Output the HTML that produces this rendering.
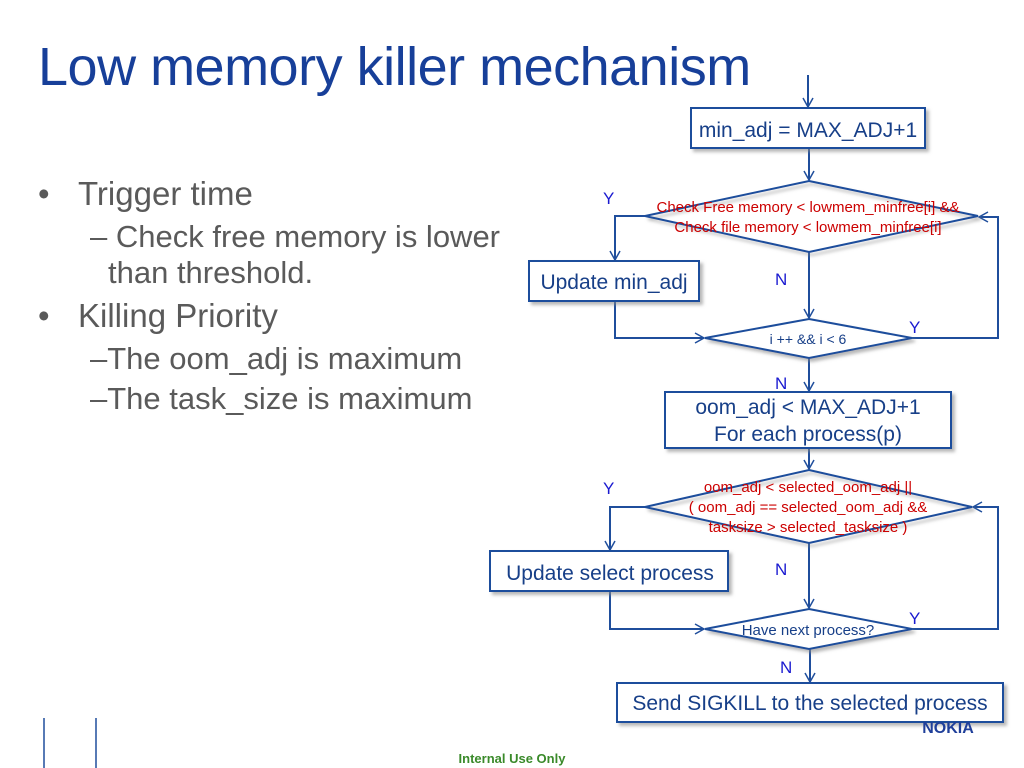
<!DOCTYPE html>
<html><head><meta charset="utf-8"><style>
body{margin:0;background:#fff;width:1024px;height:768px;overflow:hidden;position:relative;font-family:"Liberation Sans",sans-serif}
.t{position:absolute;left:38px;top:36px;font-size:54px;color:#173f99;letter-spacing:-0.5px;white-space:nowrap}
.b{position:absolute;color:#5a5a5a;font-size:33px;white-space:nowrap;line-height:38px}
.s{font-size:31px}
</style></head><body>
<div class="t">Low memory killer mechanism</div>
<div class="b" style="left:38px;top:175px">•</div><div class="b" style="left:78px;top:175px">Trigger time</div>
<div class="b s" style="left:90px;top:218px">– Check free memory is lower</div>
<div class="b s" style="left:108px;top:254px">than threshold.</div>
<div class="b" style="left:38px;top:297px">•</div><div class="b" style="left:78px;top:297px">Killing Priority</div>
<div class="b s" style="left:90px;top:340px">–The oom_adj is maximum</div>
<div class="b s" style="left:90px;top:380px">–The task_size is maximum</div>
<svg width="1024" height="768" style="position:absolute;left:0;top:0" font-family="Liberation Sans, sans-serif">
<defs><marker id="a" markerWidth="12" markerHeight="12" refX="10" refY="6" orient="auto" markerUnits="userSpaceOnUse"><path d="M1,1 L10,6 L1,11" fill="none" stroke="#1f4e9c" stroke-width="1.5"/></marker>
<filter id="s"><feDropShadow dx="3" dy="3" stdDeviation="1.5" flood-color="#888" flood-opacity="0.6"/></filter></defs>
<g stroke="#1f4e9c" stroke-width="2" fill="none">
<line x1="808" y1="75" x2="808" y2="107" marker-end="url(#a)"/>
<line x1="809" y1="148" x2="809" y2="180" marker-end="url(#a)"/>
<path d="M645,216 H615 V260" marker-end="url(#a)"/>
<path d="M615,301 V338 H704" marker-end="url(#a)"/>
<line x1="809" y1="252" x2="809" y2="318" marker-end="url(#a)"/>
<path d="M912,338 H998 V217 H979" marker-end="url(#a)"/>
<line x1="809" y1="358" x2="809" y2="391" marker-end="url(#a)"/>
<line x1="809" y1="448" x2="809" y2="469" marker-end="url(#a)"/>
<path d="M645,507 H610 V550" marker-end="url(#a)"/>
<path d="M610,591 V629 H704" marker-end="url(#a)"/>
<line x1="809" y1="543" x2="809" y2="608" marker-end="url(#a)"/>
<path d="M912,629 H998 V507 H973" marker-end="url(#a)"/>
<line x1="810" y1="649" x2="810" y2="682" marker-end="url(#a)"/>
</g>
<g stroke="#1f4e9c" stroke-width="2" fill="#fff" filter="url(#s)">
<rect x="691" y="108" width="234" height="40"/>
<polygon points="809,181 978,216 809,252 645,216" fill="none"/>
<rect x="529" y="261" width="170" height="40"/>
<polygon points="809,319 912,338 809,358 705,338"/>
<rect x="665" y="392" width="286" height="56"/>
<polygon points="809,470 972,507 809,543 645,507" fill="none"/>
<rect x="490" y="551" width="238" height="40"/>
<polygon points="809,609 912,629 809,649 705,629"/>
<rect x="617" y="683" width="386" height="39"/>
</g>
<g fill="#173f88" font-size="21" text-anchor="middle">
<text x="808" y="137">min_adj = MAX_ADJ+1</text>
<text x="614" y="289">Update min_adj</text>
<text x="808" y="414">oom_adj &lt; MAX_ADJ+1</text>
<text x="808" y="441">For each process(p)</text>
<text x="610" y="580">Update select process</text>
<text x="810" y="710">Send SIGKILL to the selected process</text>
<text x="808" y="344" font-size="14">i ++  &amp;&amp; i &lt; 6</text>
<text x="808" y="635" font-size="15">Have next process?</text>
</g>
<g fill="#cc0000" font-size="15" text-anchor="middle">
<text x="808" y="212">Check Free memory &lt; lowmem_minfree[i] &amp;&amp;</text>
<text x="808" y="232">Check file memory &lt; lowmem_minfree[i]</text>
<text x="808" y="492">oom_adj &lt; selected_oom_adj ||</text>
<text x="808" y="512">( oom_adj == selected_oom_adj &amp;&amp;</text>
<text x="808" y="532">tasksize &gt; selected_tasksize )</text>
</g>
<g fill="#1a1ad0" font-size="17">
<text x="603" y="204">Y</text><text x="775" y="285">N</text><text x="909" y="333">Y</text><text x="775" y="389">N</text>
<text x="603" y="494">Y</text><text x="775" y="575">N</text><text x="909" y="624">Y</text><text x="780" y="673">N</text>
</g>
<text x="948" y="733" font-size="16" font-weight="bold" fill="#1f3f9a" text-anchor="middle">NOKIA</text>
<text x="512" y="763" font-size="13" font-weight="bold" fill="#3a8a2a" text-anchor="middle">Internal Use Only</text>
<line x1="44" y1="718" x2="44" y2="768" stroke="#1f4e9c" stroke-width="1.5"/>
<line x1="96" y1="718" x2="96" y2="768" stroke="#1f4e9c" stroke-width="1.5"/>
</svg>
</body></html>
